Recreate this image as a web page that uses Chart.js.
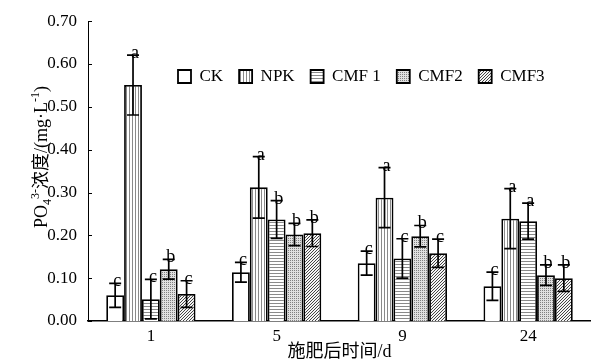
<!DOCTYPE html>
<html lang="zh">
<head>
<meta charset="UTF-8">
<title>PO4 浓度</title>
<script src="https://cdn.jsdelivr.net/npm/chart.js"></script>
<style>
  html, body { margin: 0; padding: 0; background: #fff; }
  .wrap { width: 591px; height: 361px; }
</style>
</head>
<body>
<div class="wrap"><canvas id="po4Chart" width="591" height="361"></canvas></div>
<script>
// data
const days = ['1', '5', '9', '24'];
const seriesNames = ['CK', 'NPK', 'CMF 1', 'CMF2', 'CMF3'];
const ckVals   = [0.060, 0.114, 0.135, 0.081];
const npkVals  = [0.551, 0.312, 0.288, 0.239];
const cmf1Vals = [0.051, 0.237, 0.146, 0.233];
const cmf2Vals = [0.121, 0.202, 0.198, 0.107];
const cmf3Vals = [0.063, 0.205, 0.158, 0.100];
const ckErr   = [0.028, 0.023, 0.028, 0.033];
const npkErr  = [0.070, 0.072, 0.070, 0.070];
const cmf1Err = [0.046, 0.044, 0.046, 0.042];
const cmf2Err = [0.023, 0.026, 0.025, 0.024];
const cmf3Err = [0.031, 0.031, 0.033, 0.031];
const ckSig   = ['c', 'c', 'c', 'c'];
const npkSig  = ['a', 'a', 'a', 'a'];
const cmf1Sig = ['c', 'b', 'c', 'a'];
const cmf2Sig = ['b', 'b', 'b', 'b'];
const cmf3Sig = ['c', 'b', 'c', 'b'];
const yTicks = [0, 0.1, 0.2, 0.3, 0.4, 0.5, 0.6, 0.7];

const serif = "'Liberation Serif', 'Times New Roman', 'Noto Sans CJK SC', serif";

// fill patterns
function makePattern(kind) {
    const c = document.createElement('canvas');
    const g = c.getContext('2d');
    if (kind === 'white') {
        c.width = c.height = 2;
        g.fillStyle = '#fff'; g.fillRect(0, 0, 2, 2);
    } else if (kind === 'vert') {
        c.width = c.height = 3;
        g.fillStyle = '#fff'; g.fillRect(0, 0, 3, 3);
        g.fillStyle = '#8a8a8a'; g.fillRect(0, 0, 1, 3);
    } else if (kind === 'horiz') {
        c.width = c.height = 3;
        g.fillStyle = '#fff'; g.fillRect(0, 0, 3, 3);
        g.fillStyle = '#8a8a8a'; g.fillRect(0, 0, 3, 1);
    } else if (kind === 'dots') {
        c.width = c.height = 2;
        g.fillStyle = '#e0e0e0'; g.fillRect(0, 0, 2, 2);
        g.fillStyle = '#808080'; g.fillRect(0, 0, 1, 1);
    } else {
        c.width = c.height = 3;
        g.fillStyle = '#f4f4f4'; g.fillRect(0, 0, 3, 3);
        g.fillStyle = '#444';
        g.fillRect(2, 0, 1, 1); g.fillRect(1, 1, 1, 1); g.fillRect(0, 2, 1, 1);
    }
    return g.createPattern(c, 'repeat');
}

const fills = [makePattern('white'), makePattern('vert'), makePattern('horiz'), makePattern('dots'), makePattern('diag')];
const allVals = [ckVals, npkVals, cmf1Vals, cmf2Vals, cmf3Vals];
const allErr = [ckErr, npkErr, cmf1Err, cmf2Err, cmf3Err];
const allSig = [ckSig, npkSig, cmf1Sig, cmf2Sig, cmf3Sig];

const datasets = seriesNames.map((name, i) => ({
    label: name,
    data: allVals[i],
    backgroundColor: fills[i],
    borderColor: '#000',
    borderWidth: 1.8,
    barPercentage: 1.0,
    categoryPercentage: 0.71
}));

// error bars + letters
const errorBars = {
    id: 'errorBars',
    afterDatasetsDraw(chart) {
        const ctx = chart.ctx;
        const y = chart.scales.y;
        ctx.save();
        ctx.strokeStyle = '#000';
        ctx.lineWidth = 1.7;
        ctx.fillStyle = '#000';
        ctx.font = '18px ' + serif;
        ctx.textAlign = 'center';
        ctx.textBaseline = 'alphabetic';
        allVals.forEach((vals, i) => {
            chart.getDatasetMeta(i).data.forEach((bar, j) => {
                const top = y.getPixelForValue(vals[j] + allErr[i][j]);
                const bot = y.getPixelForValue(Math.max(0, vals[j] - allErr[i][j]));
                ctx.beginPath();
                ctx.moveTo(bar.x, top); ctx.lineTo(bar.x, bot);
                ctx.moveTo(bar.x - 6, top); ctx.lineTo(bar.x + 6, top);
                ctx.moveTo(bar.x - 6, bot); ctx.lineTo(bar.x + 6, bot);
                ctx.stroke();
                ctx.fillText(allSig[i][j], bar.x + 2, top + 3);
            });
        });
        ctx.restore();
    }
};

// inward ticks on the y axis and the rotated title with sub/superscripts
const yAxisExtras = {
    id: 'yAxisExtras',
    afterDraw(chart) {
        const ctx = chart.ctx;
        const y = chart.scales.y;
        const left = chart.chartArea.left;
        ctx.save();
        ctx.strokeStyle = '#000';
        ctx.lineWidth = 1;
        y.ticks.forEach(t => {
            const py = Math.round(y.getPixelForValue(t.value)) + 0.5;
            ctx.beginPath();
            ctx.moveTo(left, py); ctx.lineTo(left + 4, py);
            ctx.stroke();
        });
        const parts = [
            { t: 'PO', s: 18, dy: 0 },
            { t: '4', s: 12, dy: 4 },
            { t: '3-', s: 12, dy: -8 },
            { t: '浓度/(mg·L', s: 18, dy: 0 },
            { t: '-1', s: 12, dy: -8 },
            { t: ')', s: 18, dy: 0 }
        ];
        let total = 0;
        parts.forEach(p => { ctx.font = p.s + 'px ' + serif; p.w = ctx.measureText(p.t).width; total += p.w; });
        ctx.translate(47, 157);
        ctx.rotate(-Math.PI / 2);
        ctx.fillStyle = '#000';
        ctx.textAlign = 'left';
        ctx.textBaseline = 'alphabetic';
        let x = -total / 2;
        parts.forEach(p => {
            ctx.font = p.s + 'px ' + serif;
            ctx.fillText(p.t, x, p.dy);
            x += p.w;
        });
        ctx.restore();
    }
};

// the legend floats inside the plot: take no layout room, then place it
const legendPlace = {
    id: 'legendPlace',
    beforeLayout(chart) {
        const lg = chart.legend;
        if (lg && !lg._floating) {
            const fit = lg.fit;
            lg.fit = function () {
                fit.call(this);
                this._realHeight = this.height;
                this.height = 0;
            };
            lg._floating = true;
        }
    },
    afterLayout(chart) {
        const lg = chart.legend;
        lg.left = 162;
        lg.right = 591;
        lg.width = lg.right - lg.left;
        lg.top = 52;
        lg.height = lg._realHeight;
        lg.bottom = lg.top + lg.height;
    }
};

Chart.defaults.font.family = serif;
Chart.defaults.color = '#000';

new Chart(document.getElementById('po4Chart'), {
    type: 'bar',
    data: { labels: days, datasets: datasets },
    plugins: [errorBars, yAxisExtras, legendPlace],
    options: {
        responsive: false,
        animation: false,
        layout: { padding: { top: 20, right: 0, left: 0, bottom: 0 } },
        scales: {
            x: {
                grid: { display: false, drawTicks: false },
                border: { display: true, color: '#000', width: 1.5 },
                ticks: { font: { size: 17 }, padding: 5 },
                title: {
                    display: true,
                    text: '施肥后时间/d',
                    font: { size: 18, lineHeight: 1 },
                    padding: { top: 0, bottom: 0 }
                },
                afterFit(scale) { scale.height = 40; }
            },
            y: {
                min: 0,
                max: 0.7,
                afterBuildTicks(scale) { scale.ticks = yTicks.map(v => ({ value: v })); },
                grid: { display: false, drawTicks: false },
                border: { display: true, color: '#000', width: 1 },
                ticks: {
                    font: { size: 17 },
                    padding: 11,
                    callback: v => v.toFixed(2)
                },
                afterFit(scale) { scale.width = 88; }
            }
        },
        plugins: {
            legend: {
                position: 'top',
                align: 'start',
                labels: {
                    boxWidth: 13,
                    boxHeight: 13,
                    padding: 16,
                    font: { size: 17 }
                }
            },
            tooltip: { enabled: false }
        }
    }
});
</script>
</body>
</html>
